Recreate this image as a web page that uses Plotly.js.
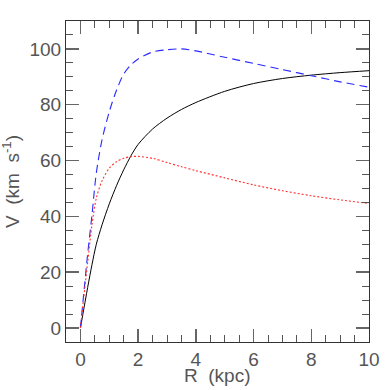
<!DOCTYPE html>
<html>
<head>
<meta charset="utf-8">
<script src="https://cdn.plot.ly/plotly-3.0.1.min.js"></script>
<style>html,body{margin:0;padding:0;background:#fff;}#chart{width:390px;height:390px;}</style>
</head>
<body>
<div id="chart"></div>
<script>
// Radius (kpc)
var radius = [0, 0.25, 0.4, 0.55, 0.75, 1, 1.25, 1.5, 1.75, 2, 2.5, 3, 3.5, 4, 5, 6, 7, 8, 9, 10];
// Total rotation curve (solid black)
var vTotal = [0, 14.5, 22.7, 30, 37, 44.5, 51, 56.7, 61.7, 65.8, 71.3, 75.2, 78.3, 80.8, 84.8, 87.6, 89.4, 90.6, 91.5, 92.2];
// Dashed blue curve
var vDashed = [0, 26.5, 40.5, 55.5, 67.5, 77.5, 85.2, 91, 94.3, 96.4, 98.9, 99.7, 100, 99.3, 97, 94.8, 92.6, 90.4, 88.2, 86.3];
// Dotted red curve
var vDotted = [0, 23.5, 37, 46.5, 52.8, 57.3, 59.6, 60.8, 61.4, 61.5, 60.8, 59.3, 57.8, 56.4, 53.8, 51.3, 49.2, 47.4, 45.9, 44.6];

// Tick values
var xMajorTicks = [0, 2, 4, 6, 8, 10];
var yMajorTicks = [0, 20, 40, 60, 80, 100];

var xTitle = 'R  (kpc)';
var yTitle = 'V  (km  s<sup>-1</sup>)';

var xRange = [-0.5, 10];
var yRange = [-5, 110];

var traces = [
  {x: radius, y: vTotal, mode: 'lines', line: {color: '#000000', width: 1, shape: 'spline', smoothing: 0.8}, hoverinfo: 'skip'},
  {x: radius, y: vDashed, mode: 'lines', line: {color: '#2a2aff', width: 1.1, dash: '8px,5px', shape: 'spline', smoothing: 0.8}, hoverinfo: 'skip'},
  {x: radius, y: vDotted, mode: 'lines', line: {color: '#ff3030', width: 1.1, dash: '2px,2px', shape: 'spline', smoothing: 0.8}, hoverinfo: 'skip'}
];

var fontFam = 'Liberation Sans, Arial, sans-serif';
var tickFont = {family: fontFam, size: 19, color: '#555555'};

var layout = {
  width: 390, height: 390,
  margin: {l: 66, r: 20.5, t: 21, b: 48},
  paper_bgcolor: '#ffffff', plot_bgcolor: '#ffffff',
  showlegend: false,
  xaxis: {
    range: xRange, tickvals: xMajorTicks, ticktext: xMajorTicks.map(String),
    ticks: 'inside', ticklen: 13, tickwidth: 1.5, tickcolor: '#666666',
    minor: {dtick: 0.5, tick0: 0, ticks: 'inside', ticklen: 7, tickwidth: 1, tickcolor: '#555555'},
    showline: true, linecolor: '#333333', linewidth: 1, mirror: 'allticks',
    showgrid: false, zeroline: false,
    tickfont: tickFont
  },
  yaxis: {
    range: yRange, tickvals: yMajorTicks, ticktext: yMajorTicks.map(String),
    ticks: 'inside', ticklen: 13, tickwidth: 1.5, tickcolor: '#666666',
    minor: {dtick: 5, tick0: 0, ticks: 'inside', ticklen: 7, tickwidth: 1, tickcolor: '#555555'},
    showline: true, linecolor: '#333333', linewidth: 1, mirror: 'allticks',
    showgrid: false, zeroline: false,
    tickfont: tickFont
  },
  annotations: [
    {text: xTitle, xref: 'paper', yref: 'paper', x: 0.5, y: -0.105, xanchor: 'center', yanchor: 'middle', showarrow: false, font: {family: fontFam, size: 19, color: '#555555'}},
    {text: yTitle, xref: 'paper', yref: 'paper', x: -0.183, y: 0.5, xanchor: 'center', yanchor: 'middle', textangle: -90, showarrow: false, font: {family: fontFam, size: 19, color: '#555555'}}
  ]
};

Plotly.newPlot('chart', traces, layout, {staticPlot: true, displayModeBar: false});
</script>
</body>
</html>
